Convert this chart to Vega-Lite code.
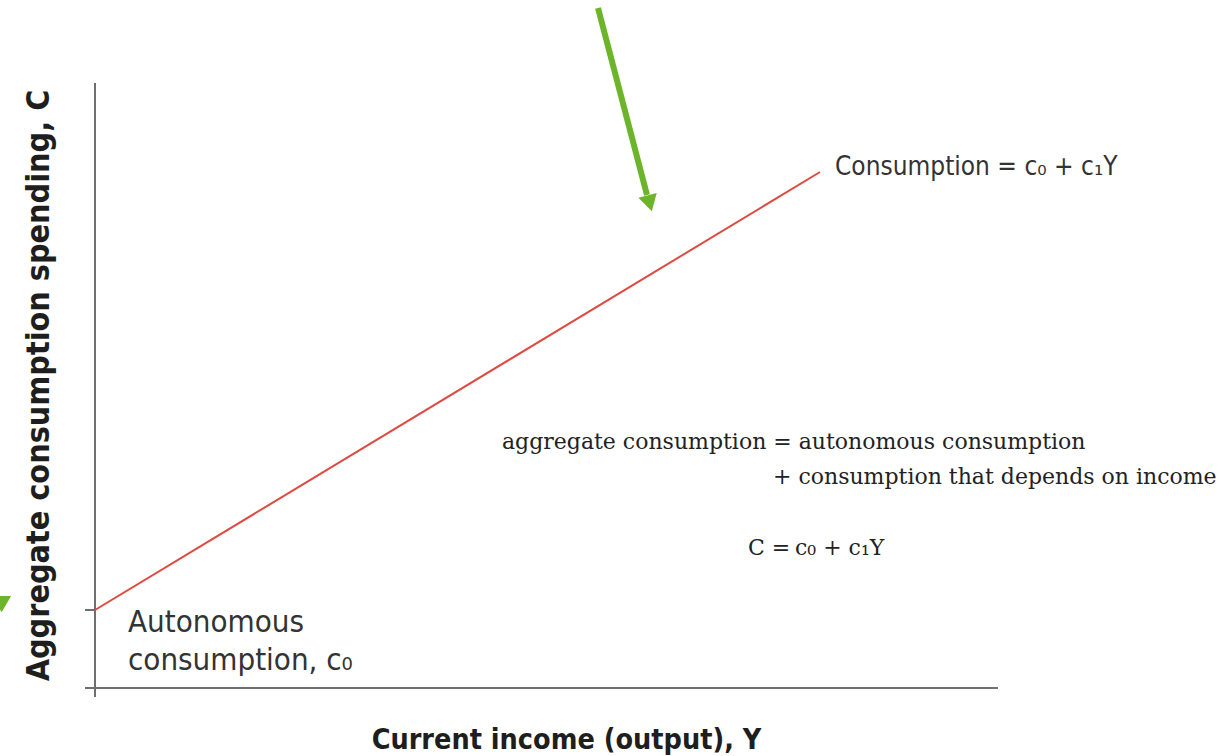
{
  "$schema": "https://vega.github.io/schema/vega-lite/v6.json",
  "autosize": {"type": "none"},
  "width": 1138,
  "height": 700,
  "padding": {"left": 85, "top": 0, "right": 0, "bottom": 56},
  "background": "white",
  "config": {"view": {"stroke": null}},
  "datasets": {
    "axes": [
      {"part": "y axis", "x": 0, "x2": 0, "y": -9, "y2": 605},
      {"part": "x axis", "x": -10, "x2": 903, "y": 0, "y2": 0},
      {"part": "intercept tick", "x": -10, "x2": 0, "y": 78, "y2": 78}
    ],
    "consumption": [
      {"Y": 0, "C": 78},
      {"Y": 725, "C": 516}
    ],
    "arrowShaft": [
      {"x": 503, "y": 680, "x2": 552, "y2": 493}
    ],
    "arrowHead": [
      {"x": 554.7, "y": 484.7, "angle": -15, "shape": "triangle-down"},
      {"x": -91, "y": 88, "angle": -30, "shape": "triangle-right"}
    ],
    "sansText": [
      {"label": "Consumption = c₀ + c₁Y", "x": 740, "y": 513, "size": 26},
      {"label": "Autonomous", "x": 33, "y": 56, "size": 31},
      {"label": "consumption, c₀", "x": 33, "y": 18, "size": 31}
    ],
    "serifText": [
      {"label": "aggregate consumption = autonomous consumption", "x": 407, "y": 239, "style": "normal"},
      {"label": "+ consumption that depends on income", "x": 678, "y": 204, "style": "normal"},
      {"label": "C =", "x": 653, "y": 133, "style": "normal"},
      {"label": "c₀ + c₁Y", "x": 700, "y": 133, "style": "italic"}
    ]
  },
  "layer": [
    {
      "data": {"name": "axes"},
      "mark": {"type": "rule", "color": "#6f6f6f", "strokeWidth": 2},
      "encoding": {
        "x": {"field": "x", "type": "quantitative", "scale": {"domain": [-10, 1128], "nice": false, "zero": false},
              "axis": {"domain": false, "ticks": false, "labels": false, "grid": false,
                       "title": "Current income (output), Y", "titleFont": "DejaVu Sans Condensed, Roboto, sans-serif",
                       "titleFontSize": 28.5, "titleFontWeight": "bold", "titleColor": "#1e1e1e",
                       "titleX": 481, "titleY": 48, "titleAlign": "center", "titleBaseline": "alphabetic"}},
        "x2": {"field": "x2"},
        "y": {"field": "y", "type": "quantitative", "scale": {"domain": [-12, 688], "nice": false, "zero": false},
              "axis": {"domain": false, "ticks": false, "labels": false, "grid": false,
                       "title": "Aggregate consumption spending, C", "titleFont": "DejaVu Sans Condensed, Roboto, sans-serif",
                       "titleFontSize": 32, "titleFontWeight": "bold", "titleColor": "#1e1e1e",
                       "titleX": -37, "titleY": 385, "titleAlign": "center", "titleBaseline": "alphabetic", "titleAngle": -90}},
        "y2": {"field": "y2"}
      }
    },
    {
      "data": {"name": "consumption"},
      "mark": {"type": "line", "color": "#de4b40", "strokeWidth": 2},
      "encoding": {
        "x": {"field": "Y", "type": "quantitative", "scale": {"domain": [-10, 1128], "nice": false, "zero": false}},
        "y": {"field": "C", "type": "quantitative", "scale": {"domain": [-12, 688], "nice": false, "zero": false}}
      }
    },
    {
      "data": {"name": "arrowShaft"},
      "mark": {"type": "rule", "color": "#6cb52a", "strokeWidth": 6, "clip": false},
      "encoding": {
        "x": {"field": "x", "type": "quantitative", "scale": {"domain": [-10, 1128], "nice": false, "zero": false}},
        "x2": {"field": "x2"},
        "y": {"field": "y", "type": "quantitative", "scale": {"domain": [-12, 688], "nice": false, "zero": false}},
        "y2": {"field": "y2"}
      }
    },
    {
      "data": {"name": "arrowHead"},
      "mark": {"type": "point", "filled": true, "color": "#6cb52a", "opacity": 1, "size": 360, "clip": false},
      "encoding": {
        "x": {"field": "x", "type": "quantitative", "scale": {"domain": [-10, 1128], "nice": false, "zero": false}},
        "y": {"field": "y", "type": "quantitative", "scale": {"domain": [-12, 688], "nice": false, "zero": false}},
        "shape": {"field": "shape", "type": "nominal", "scale": null, "legend": null},
        "angle": {"field": "angle", "type": "quantitative", "scale": null}
      }
    },
    {
      "data": {"name": "sansText"},
      "mark": {"type": "text", "align": "left", "baseline": "alphabetic", "font": "DejaVu Sans Condensed, Roboto, sans-serif", "color": "#333333"},
      "encoding": {
        "x": {"field": "x", "type": "quantitative", "scale": {"domain": [-10, 1128], "nice": false, "zero": false}},
        "y": {"field": "y", "type": "quantitative", "scale": {"domain": [-12, 688], "nice": false, "zero": false}},
        "text": {"field": "label"},
        "size": {"field": "size", "type": "quantitative", "scale": null, "legend": null}
      }
    },
    {
      "data": {"name": "serifText"},
      "mark": {"type": "text", "align": "left", "baseline": "alphabetic", "font": "DejaVu Serif", "fontSize": 22, "color": "#222222"},
      "encoding": {
        "x": {"field": "x", "type": "quantitative", "scale": {"domain": [-10, 1128], "nice": false, "zero": false}},
        "y": {"field": "y", "type": "quantitative", "scale": {"domain": [-12, 688], "nice": false, "zero": false}},
        "text": {"field": "label"},
        "fontStyle": {"field": "style", "type": "nominal", "scale": null, "legend": null}
      }
    }
  ]
}
